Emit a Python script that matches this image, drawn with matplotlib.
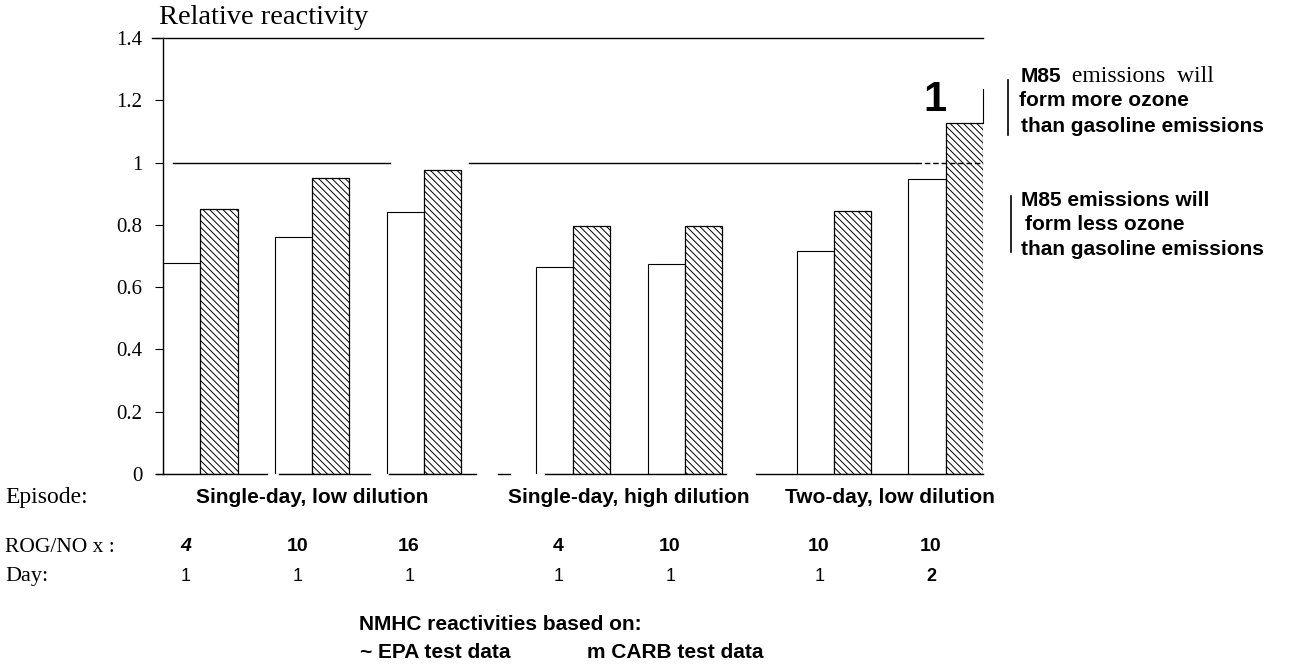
"""Relative reactivity of M85 vs gasoline emissions, by episode."""

import matplotlib

matplotlib.use("Agg")

import matplotlib.pyplot as plt  # noqa: E402

SERIF = "Liberation Serif"
SANS = "Liberation Sans"

# one entry per bar pair
episodes = ["Single-day, low dilution", "Single-day, high dilution", "Two-day, low dilution"]
rog_nox = ["4", "10", "16", "4", "10", "10", "10"]
days = ["1", "1", "1", "1", "1", "1", "2"]
epa_values = [0.677, 0.761, 0.841, 0.665, 0.675, 0.715, 0.948]
carb_values = [0.851, 0.950, 0.976, 0.795, 0.795, 0.845, 1.128]
# left edge of each white bar, in bar widths (gaps between episodes are wider)
pair_slots = [0, 3, 6, 10, 13, 17, 20]
episode_pairs = [(0, 2), (3, 4), (5, 6)]
y_ticks = [0, 0.2, 0.4, 0.6, 0.8, 1.0, 1.2, 1.4]
y_tick_labels = ["0", "0.2", "0.4", "0.6", "0.8", "1", "1.2", "1.4"]

plt.rcParams["hatch.linewidth"] = 0.7

fig = plt.figure(figsize=(12.91, 6.67), dpi=100)
ax = fig.add_axes([163 / 1291, 1 - 474 / 667, 820 / 1291, 436 / 667])
ax.set_xlim(0, 22)
ax.set_ylim(0, 1.4)

white_x = [s + 0.5 for s in pair_slots]
hatch_x = [s + 1.5 for s in pair_slots]
ax.bar(white_x, epa_values, width=1.0, color="white", edgecolor="black", linewidth=0.8)
ax.bar(hatch_x, carb_values, width=1.0, color="white", edgecolor="black",
       linewidth=0.9, hatch="\\\\\\\\\\")

# frame: left spine, top rule, broken baseline
for side in ("right", "bottom", "top"):
    ax.spines[side].set_visible(False)
ax.spines["left"].set_linewidth(1.0)
ax.plot([-0.3, 22], [1.4, 1.4], color="black", lw=1.0, clip_on=False)
for x0, x1 in [(-0.2, 2.8), (3.1, 5.55), (6.05, 8.4), (9.0, 9.3), (10.25, 15.1), (15.9, 22)]:
    ax.plot([x0, x1], [0, 0], color="black", lw=1.0, clip_on=False)

# reference line at 1 (solid, broken, dashed at the end)
ax.plot([0.27, 6.1], [1, 1], color="black", lw=1.0)
ax.plot([8.2, 20.2], [1, 1], color="black", lw=1.0)
ax.plot([20.2, 22], [1, 1], color="black", lw=1.0, ls=(0, (4, 2)), clip_on=False)
ax.plot([22, 22], [carb_values[-1], 1.236], color="black", lw=0.8, clip_on=False)
ax.text(20.7, 1.2, "1", fontsize=30, fontweight="bold", family=SANS,
        ha="center", va="center")

ax.set_xticks([])
ax.set_yticks(y_ticks)
ax.set_yticklabels(y_tick_labels, family=SERIF, fontsize=15)
ax.tick_params(axis="y", direction="out", length=6, width=0.8, pad=9)

ax.text(-0.1, 1.425, "Relative reactivity", family=SERIF, fontsize=20.5,
        ha="left", va="bottom")

# episode labels and per-pair rows below the axis
trans = ax.get_xaxis_transform()
fig.text(5 / 1291, 1 - 497 / 667, "Episode:", family=SERIF, fontsize=17, va="center")
fig.text(5 / 1291, 1 - 547 / 667, "ROG/NO x :", family=SERIF, fontsize=15.5, va="center")
fig.text(5 / 1291, 1 - 577 / 667, "Day:", family=SERIF, fontsize=16, va="center")
ep_centres = [(pair_slots[a] + pair_slots[b] + 2) / 2 for a, b in episode_pairs]
for name, xc in zip(episodes, ep_centres):
    ax.text(xc, -0.053, name, transform=trans, family=SANS, fontsize=15,
            fontweight="bold", ha="center", va="center")
for i, (r, d) in enumerate(zip(rog_nox, days)):
    style = "italic" if i == 0 else "normal"
    ax.text(white_x[i] + 0.1, -0.167, r, transform=trans, family=SANS, fontsize=14,
            fontweight="bold", style=style, ha="center", va="center")
    ax.text(white_x[i] + 0.12, -0.236, d, transform=trans, family=SANS,
            fontsize=13, fontweight="bold" if d == "2" else "normal",
            ha="center", va="center")

fig.text(359 / 1291, 1 - 625 / 667, "NMHC reactivities based on:", family=SANS,
         fontsize=15, fontweight="bold", va="center")
fig.text(360 / 1291, 1 - 652 / 667, "~ EPA test data", family=SANS,
         fontsize=15, fontweight="bold", va="center")
fig.text(587 / 1291, 1 - 652 / 667, "m CARB test data", family=SANS,
         fontsize=15, fontweight="bold", va="center")

# side notes with bracket bars
fig.text(1021 / 1291, 1 - 76 / 667, "M85", family=SANS, fontsize=15,
         fontweight="bold", va="center")
fig.text(1066 / 1291, 1 - 76 / 667, " emissions  will", family=SERIF, fontsize=17,
         va="center")
fig.text(1019 / 1291, 1 - 101 / 667, "form more ozone", family=SANS, fontsize=15,
         fontweight="bold", va="center")
fig.text(1021 / 1291, 1 - 126 / 667, "than gasoline emissions", family=SANS,
         fontsize=15, fontweight="bold", va="center")
fig.add_artist(plt.Line2D([1008 / 1291] * 2, [1 - 80 / 667, 1 - 135 / 667],
                          color="black", lw=1.2))
fig.text(1021 / 1291, 1 - 200 / 667, "M85 emissions will", family=SANS,
         fontsize=15, fontweight="bold", va="center")
fig.text(1025 / 1291, 1 - 225 / 667, "form less ozone", family=SANS, fontsize=15,
         fontweight="bold", va="center")
fig.text(1021 / 1291, 1 - 250 / 667, "than gasoline emissions", family=SANS,
         fontsize=15, fontweight="bold", va="center")
fig.add_artist(plt.Line2D([1011 / 1291] * 2, [1 - 196 / 667, 1 - 252 / 667],
                          color="black", lw=1.2))

fig.savefig("out.png", dpi=100)
